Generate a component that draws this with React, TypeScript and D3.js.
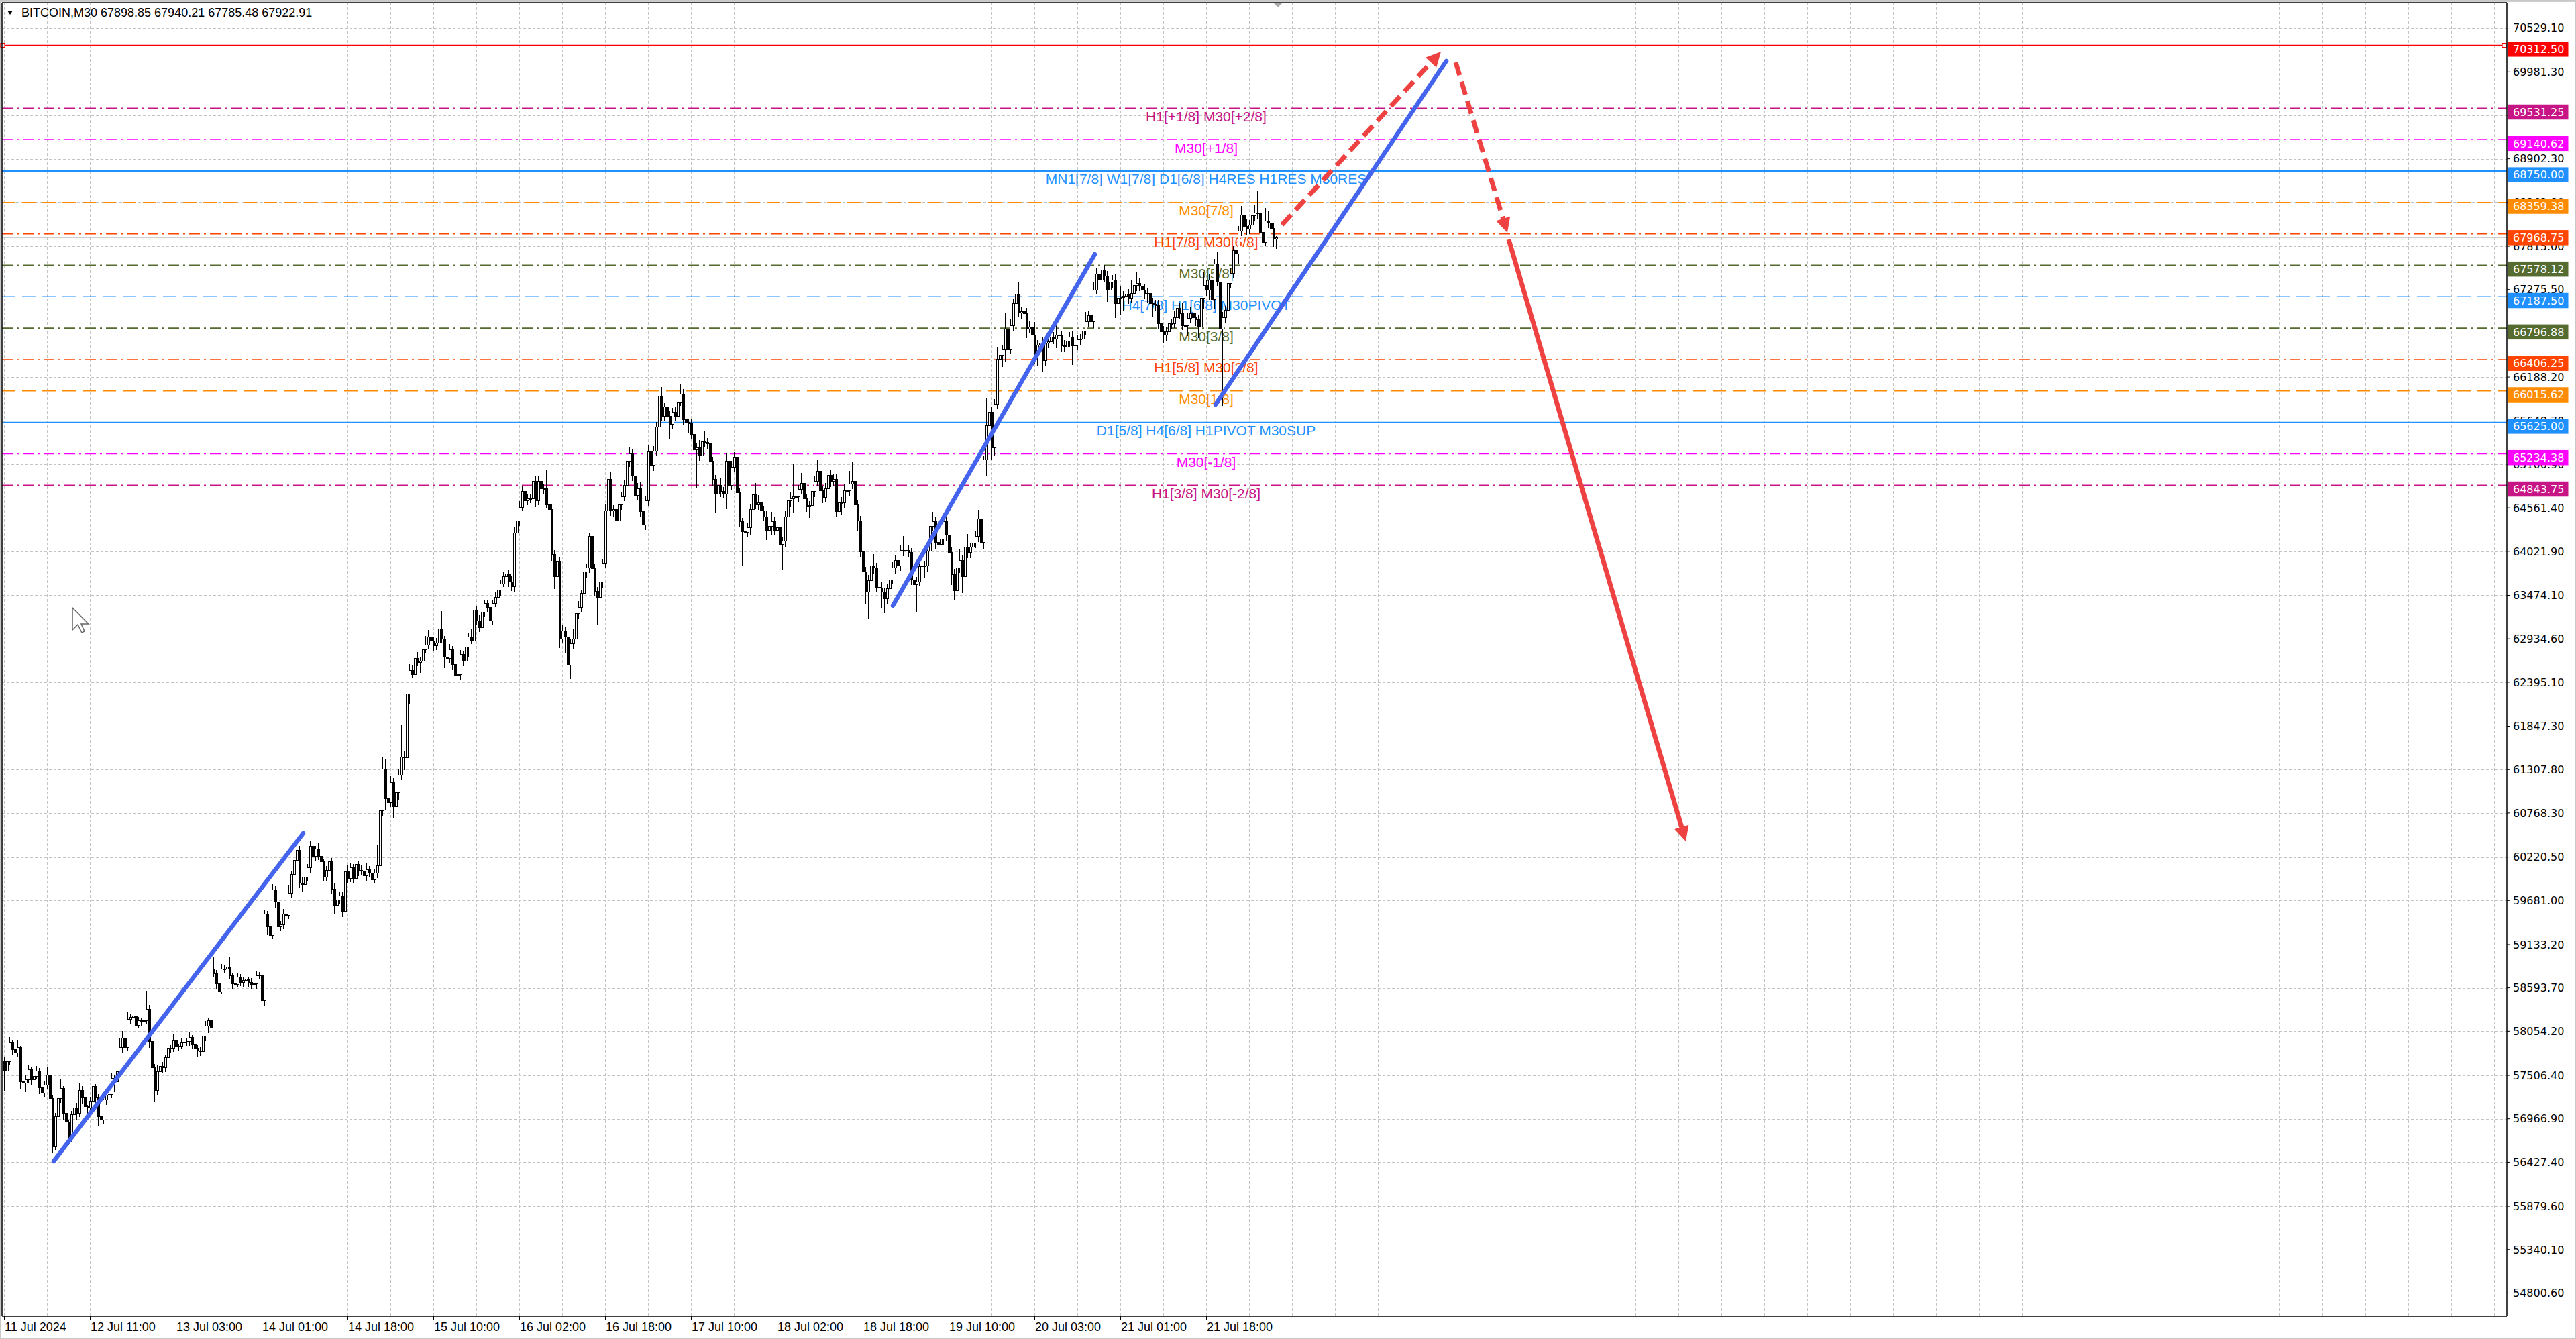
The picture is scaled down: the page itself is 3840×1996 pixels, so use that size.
import React, { useEffect } from 'react';
import * as d3 from 'd3';

// ---------- DATA ----------
const TITLE = 'BITCOIN,M30  67898.85 67940.21 67785.48 67922.91';

const CLOSES: number[] = [
  57557, 57674, 57907, 57824, 57782, 57849, 57424, 57407, 57449, 57574,
  57449, 57490, 57557, 57349, 57282, 57382, 57507, 57215, 56615, 56990,
  57215, 57340, 57032, 56923, 56740, 57015, 57098, 57032, 57323, 57223,
  57115, 57098, 57182, 57365, 57223, 56990, 56948, 57198, 57257, 57265,
  57465, 57424, 57549, 57849, 57966, 57849, 58199, 58224, 58241, 58132,
  58183, 58174, 58183, 58324, 57924, 57599, 57323, 57549, 57615, 57599,
  57724, 57841, 57841, 57932, 57866, 57866, 57907, 57916, 57924, 57974,
  57891, 57841, 57807, 57799, 57991, 58116, 58183, 58091, 58766, 58641,
  58549, 58825, 58825, 58850, 58741, 58641, 58633, 58725, 58658, 58683,
  58700, 58658, 58633, 58641, 58741, 58750, 58433, 59509, 59350, 59242,
  59809, 59659, 59350, 59383, 59509, 59492, 59775, 60001, 60176, 60301,
  59892, 59876, 59967, 60084, 60351, 60226, 60318, 60226, 60159, 59967,
  60051, 60159, 59825, 59617, 59684, 59734, 59542, 60034, 59951, 60084,
  59951, 60126, 60051, 60043, 59984, 60067, 60017, 59934, 60017, 60109,
  60793, 61318, 60951, 60893, 61143, 60843, 61018, 61243, 61460, 61452,
  62244, 62544, 62494, 62686, 62636, 62653, 62795, 62861, 62953, 62911,
  62845, 62878, 63053, 62928, 62703, 62686, 62795, 62619, 62478, 62494,
  62736, 62653, 62828, 62953, 62911, 63287, 63161, 63070, 63262, 63370,
  63328, 63161, 63370, 63453, 63537, 63620, 63704, 63745, 63645, 63579,
  64246, 64396, 64563, 64763, 64646, 64679, 64679, 64896, 64646, 64888,
  64804, 64796, 64604, 64538, 63979, 63704, 63895, 62928, 63036, 62953,
  62603, 62870, 62936, 63245, 63328, 63495, 63762, 63812, 64204, 63804,
  63520, 63453, 63637, 63871, 64521, 64913, 64521, 64538, 64396, 64604,
  64704, 64846, 65138, 65230, 64955, 64713, 64804, 64513, 64346, 64646,
  65263, 65096, 65271, 65564, 65955, 65705, 65814, 65705, 65597, 65747,
  65705, 65880, 65980, 65663, 65622, 65605, 65472, 65288, 65313, 65205,
  65388, 65372, 65363, 65146, 64913, 64730, 64846, 64763, 64730, 65146,
  64846, 65063, 65188, 64746, 64388, 64263, 64254, 64313, 64538, 64721,
  64604, 64621, 64521, 64454, 64287, 64329, 64388, 64287, 64313, 64104,
  64146, 64454, 64646, 64679, 64704, 64704, 64788, 64871, 64679, 64579,
  64588, 64763, 64888, 65013, 64771, 64688, 64804, 64971, 64896, 64913,
  64513, 64621, 64621, 64771, 64771, 64855, 64888, 64604, 64396, 64013,
  63762, 63512, 63654, 63845, 63812, 63570, 63562, 63512, 63429, 63554,
  63670, 63812, 63904, 63845, 64029, 64021, 64029, 64004, 63670, 63604,
  63645, 63829, 63845, 63845, 64021, 64329, 64388, 64129, 64104, 64171,
  64388, 64221, 64004, 63729, 63529, 63812, 63904, 63704, 64071, 64004,
  64071, 64121, 64204, 64429, 64129, 65155, 65580, 65755, 65305, 65855,
  66414, 66456, 66531, 66789, 66531, 66831, 67106, 67215, 66989, 66998,
  66981, 66789, 66806, 66706, 66472, 66589, 66606, 66389, 66614, 66623,
  66689, 66656, 66714, 66706, 66573, 66564, 66631, 66689, 66573, 66589,
  66648, 66656, 66764, 66873, 66956, 66873, 67273, 67473, 67398, 67523,
  67440, 67273, 67373, 67398, 67106, 67165, 67173, 67190, 67223, 67165,
  67231, 67331, 67356, 67315, 67273, 67223, 67231, 67098, 67090, 67081,
  66848, 66748, 66706, 66748, 66856, 66856, 66931, 67040, 66981, 66831,
  66823, 66915, 66981, 66931, 66898, 66806, 67165, 67331, 67265, 67398,
  67148, 67598, 67373, 66789, 66931, 67015, 67356, 67481, 67765, 67723,
  67999, 68207, 68065, 68024, 68082, 68191, 68232, 68224, 67982, 67857,
  68124, 68099, 68040, 67898.85, 67922.91,
];

const WICK_UP: number[] = [
  60, 42, 75, 33, 50, 92, 25, 42, 58, 67,
  33, 50, 67, 42, 25, 58, 100, 33, 42, 50,
  42, 117, 33, 58, 25, 50, 42, 67, 92, 50,
  42, 25, 58, 83, 33, 50, 42, 67, 50, 33,
  75, 42, 58, 117, 92, 33, 100, 50, 67, 42,
  50, 33, 42, 236, 58, 33, 50, 92, 42, 58,
  42, 67, 50, 83, 42, 33, 58, 42, 50, 75,
  33, 50, 42, 58, 100, 67, 42, 50, 160, 50,
  42, 67, 50, 83, 125, 42, 33, 58, 42, 50,
  42, 33, 58, 50, 67, 42, 50, 58, 42, 50,
  75, 58, 50, 42, 67, 58, 100, 42, 125, 83,
  58, 75, 42, 50, 70, 58, 42, 75, 50, 42,
  58, 42, 50, 67, 42, 58, 50, 225, 83, 58,
  50, 58, 42, 67, 50, 83, 42, 58, 50, 263,
  150, 140, 117, 58, 83, 67, 50, 75, 400, 83,
  67, 75, 58, 42, 83, 50, 67, 108, 92, 58,
  50, 67, 58, 225, 42, 58, 75, 50, 42, 58,
  58, 42, 67, 50, 100, 58, 50, 67, 58, 42,
  50, 58, 42, 67, 50, 42, 58, 50, 42, 67,
  75, 58, 83, 67, 258, 58, 50, 92, 58, 67,
  83, 58, 242, 50, 67, 58, 83, 58, 67, 50,
  50, 67, 125, 58, 75, 42, 67, 58, 50, 108,
  67, 58, 83, 50, 83, 334, 100, 58, 67, 75,
  58, 67, 75, 92, 58, 50, 67, 83, 58, 67,
  83, 142, 58, 67, 195, 108, 50, 58, 67, 58,
  67, 58, 117, 58, 67, 50, 58, 67, 50, 92,
  67, 125, 58, 67, 50, 58, 67, 83, 58, 100,
  58, 83, 67, 225, 58, 50, 67, 58, 75, 58,
  150, 100, 58, 67, 75, 117, 125, 58, 50, 67,
  58, 75, 67, 83, 400, 67, 58, 125, 67, 58,
  58, 67, 75, 150, 125, 58, 67, 108, 58, 67,
  67, 58, 75, 83, 58, 167, 242, 142, 58, 67,
  58, 67, 75, 58, 142, 67, 58, 75, 58, 67,
  58, 75, 67, 58, 67, 183, 75, 67, 58, 67,
  58, 67, 75, 58, 67, 58, 125, 67, 75, 58,
  67, 142, 58, 67, 75, 58, 142, 67, 58, 167,
  58, 67, 75, 108, 67, 58, 342, 75, 67, 58,
  142, 67, 58, 200, 67, 75, 58, 258, 150, 67,
  58, 67, 75, 58, 167, 58, 67, 75, 58, 67,
  125, 58, 117, 67, 58, 75, 67, 58, 67, 75,
  58, 67, 75, 125, 58, 67, 100, 67, 58, 125,
  58, 67, 75, 58, 67, 58, 150, 67, 75, 58,
  167, 58, 142, 67, 58, 75, 58, 67, 75, 58,
  67, 58, 75, 58, 67, 58, 75, 117, 67, 125,
  58, 67, 75, 142, 58, 67, 75, 158, 67, 75,
  133, 58, 150, 75, 67, 58, 75, 67, 58, 108,
  67, 108, 92, 83, 58, 125, 100, 275, 67, 75,
  167, 125, 58, 67, 17.3,
];

const WICK_DN: number[] = [
  250, 58, 42, 67, 33, 50, 83, 58, 108, 42,
  58, 42, 33, 75, 100, 50, 42, 58, 70, 42,
  33, 50, 83, 42, 100, 58, 33, 75, 42, 67,
  58, 75, 42, 33, 67, 108, 167, 42, 58, 50,
  42, 125, 50, 33, 58, 42, 33, 58, 42, 75,
  42, 58, 33, 42, 75, 117, 150, 58, 42, 67,
  50, 33, 58, 42, 67, 50, 33, 58, 42, 50,
  58, 42, 67, 50, 33, 58, 83, 100, 42, 67,
  58, 33, 42, 50, 42, 58, 67, 33, 42, 50,
  42, 58, 50, 33, 58, 42, 125, 67, 100, 88,
  42, 67, 83, 50, 58, 75, 42, 67, 50, 92,
  50, 83, 58, 42, 67, 50, 58, 42, 67, 50,
  42, 58, 67, 100, 50, 42, 67, 50, 58, 42,
  58, 42, 67, 50, 42, 58, 50, 67, 42, 58,
  75, 67, 140, 58, 50, 133, 167, 83, 58, 150,
  400, 117, 50, 83, 42, 125, 58, 42, 50, 67,
  58, 50, 67, 42, 133, 58, 50, 67, 150, 125,
  67, 58, 50, 117, 42, 67, 58, 50, 108, 50,
  67, 50, 58, 42, 50, 67, 42, 58, 67, 50,
  67, 50, 58, 42, 67, 50, 58, 42, 75, 50,
  58, 67, 50, 58, 75, 150, 58, 111, 42, 190,
  42, 167, 58, 50, 67, 58, 42, 75, 58, 50,
  58, 350, 50, 67, 58, 75, 58, 67, 250, 58,
  67, 58, 50, 67, 58, 75, 50, 58, 167, 58,
  58, 67, 75, 58, 50, 67, 58, 50, 180, 58,
  58, 67, 50, 75, 58, 108, 58, 50, 484, 58,
  200, 58, 67, 50, 75, 225, 58, 67, 50, 183,
  67, 58, 50, 75, 58, 417, 275, 58, 83, 67,
  58, 67, 75, 58, 125, 67, 100, 58, 75, 67,
  320, 67, 58, 75, 175, 58, 67, 50, 75, 67,
  142, 58, 67, 58, 75, 67, 58, 50, 75, 58,
  67, 58, 150, 67, 58, 67, 58, 75, 125, 67,
  58, 150, 334, 58, 67, 58, 75, 200, 180, 58,
  67, 58, 75, 58, 67, 58, 75, 58, 67, 75,
  334, 58, 67, 150, 75, 67, 58, 75, 67, 58,
  75, 67, 58, 125, 117, 67, 58, 200, 58, 67,
  67, 150, 58, 67, 75, 75, 200, 58, 150, 92,
  67, 58, 142, 150, 67, 58, 75, 67, 58, 75,
  67, 117, 58, 75, 125, 150, 67, 142, 58, 67,
  67, 58, 108, 58, 75, 58, 67, 75, 230, 230,
  67, 58, 75, 58, 67, 58, 75, 58, 67, 75,
  67, 150, 58, 75, 180, 58, 200, 167, 75, 67,
  58, 67, 75, 58, 67, 58, 117, 67, 150, 75,
  58, 100, 100, 75, 183, 67, 58, 75, 67, 58,
  67, 125, 58, 67, 75, 133, 58, 125, 67, 117,
  67, 117, 58, 100, 959, 67, 75, 58, 67, 75,
  125, 58, 67, 75, 58, 67, 58, 67, 108, 117,
  42, 58, 67, 92, 113.37,
];

const OPEN_OVERRIDE_INDEX = [0, 78];
const OPEN_OVERRIDE_PRICE = [57674, 58825];

const X_LABEL_BARS = [0, 32, 64, 96, 128, 160, 192, 224, 256, 288, 320, 352, 384, 416, 448];
const X_LABELS = [
  '11 Jul 2024', '12 Jul 11:00', '13 Jul 03:00', '14 Jul 01:00', '14 Jul 18:00',
  '15 Jul 10:00', '16 Jul 02:00', '16 Jul 18:00', '17 Jul 10:00', '18 Jul 02:00',
  '18 Jul 18:00', '19 Jul 10:00', '20 Jul 03:00', '21 Jul 01:00', '21 Jul 18:00',
];

const Y_TICKS = [
  70529.1, 69981.3, 69442.8, 68902.3, 68362.8, 67815.0, 67275.5, 66736.0, 66188.2,
  65648.7, 65100.9, 64561.4, 64021.9, 63474.1, 62934.6, 62395.1, 61847.3, 61307.8,
  60768.3, 60220.5, 59681.0, 59133.2, 58593.7, 58054.2, 57506.4, 56966.9, 56427.4,
  55879.6, 55340.1, 54800.6,
];

const LEVEL_PRICES = [70312.5, 69531.25, 69140.62, 68750.0, 68359.38, 67968.75, 67578.12,
  67187.5, 66796.88, 66406.25, 66015.62, 65625.0, 65234.38, 64843.75];
const LEVEL_TEXTS = ['', 'H1[+1/8] M30[+2/8]', 'M30[+1/8]', 'MN1[7/8] W1[7/8] D1[6/8] H4RES H1RES M30RES',
  'M30[7/8]', 'H1[7/8] M30[6/8]', 'M30[5/8]', 'H4[7/8] H1[6/8] M30PIVOT', 'M30[3/8]',
  'H1[5/8] M30[2/8]', 'M30[1/8]', 'D1[5/8] H4[6/8] H1PIVOT M30SUP', 'M30[-1/8]', 'H1[3/8] M30[-2/8]'];
const LEVEL_COLORS = ['#FF0000', '#C71585', '#FF00FF', '#1E90FF', '#FF8C00', '#FF4500', '#556B2F',
  '#1E90FF', '#556B2F', '#FF4500', '#FF8C00', '#1E90FF', '#FF00FF', '#C71585'];
const LEVEL_STYLES = ['solid', 'dashdot', 'dashdot', 'solid', 'dash', 'dashdot', 'dashdot',
  'dash', 'dashdot', 'dashdot', 'dash', 'solid', 'dashdot', 'dashdot'];

const BID_PRICE = 67922.91;

// trend lines: [bar1, price1, bar2, price2]
const BLUE_LINES: number[][] = [
  [18.5, 56439, 111.5, 60518],
  [331.25, 63345, 406.5, 67715],
  [451.5, 65847, 537.5, 70117],
];
const RED_ARROWS: number[][] = [
  [476.25, 68082, 535.5, 70234],
  [541, 70100, 560.25, 67982],
  [560.75, 67899, 626.75, 60418],
];
const RED_ARROW_DASHED = [true, true, false];

// ---------- LAYOUT ----------
const W = 3840;
const H = 1996;
const PL = 3;
const PT = 4;
const PR = 3737;
const PB = 1962;
const LABEL_CX = 1798;
const SANS = "'Liberation Sans', Arial, sans-serif";
const AXF = "'DejaVu Sans', Verdana, sans-serif";

function arrowGeom(x1: number, y1: number, x2: number, y2: number, len: number, half: number) {
  const dx = x2 - x1, dy = y2 - y1;
  const d = Math.hypot(dx, dy);
  const ux = dx / d, uy = dy / d;
  const bx = x2 - ux * len, by = y2 - uy * len;
  const pts = `${x2},${y2} ${bx - uy * half},${by + ux * half} ${bx + uy * half},${by - ux * half}`;
  return { pts, bx: bx + ux * 2, by: by + uy * 2 };
}

export default function App() {
  useEffect(() => {
    document.body.style.margin = '0';
    document.body.style.overflow = 'hidden';
  }, []);

  const x = d3.scaleLinear().domain([0, 932.75]).range([6, PR]);
  const y = d3.scaleLinear().domain([54512.4, 70842.7]).range([PB, PT]);

  const opens = CLOSES.map((c, i) => {
    const k = OPEN_OVERRIDE_INDEX.indexOf(i);
    if (k >= 0) return OPEN_OVERRIDE_PRICE[k];
    return i > 0 ? CLOSES[i - 1] : c;
  });

  const vGrid = d3.range(0, 933, 16);
  const dashFor = (s: string) => (s === 'dash' ? '20,10' : s === 'dashdot' ? '16,6,3,6' : undefined);

  return (
    <svg width={W} height={H} style={{ position: 'absolute', left: 0, top: 0, background: '#fff' }}
      xmlns="http://www.w3.org/2000/svg">
      <rect x={0} y={0} width={W} height={H} fill="#fff" />
      <rect x={0} y={0} width={W} height={3} fill="#CFCFCF" />
      <rect x={0.5} y={0.5} width={W - 1} height={H - 1} fill="none" stroke="#C8C8C8" />

      {/* grid */}
      <g stroke="#C4C4C4" strokeWidth={1} strokeDasharray="4,3" shapeRendering="crispEdges">
        {Y_TICKS.map((t, i) => (
          <line key={'hg' + i} x1={PL} x2={PR} y1={Math.round(y(t)) + 0.5} y2={Math.round(y(t)) + 0.5} />
        ))}
        {vGrid.map((b) => (
          <line key={'vg' + b} x1={Math.round(x(b)) + 0.5} x2={Math.round(x(b)) + 0.5} y1={PT} y2={PB} />
        ))}
      </g>

      {/* level lines */}
      {LEVEL_PRICES.map((p, i) => (
        <line key={'lv' + i} x1={PL} x2={PR} y1={y(p)} y2={y(p)} stroke={LEVEL_COLORS[i]}
          strokeWidth={i === 3 ? 2.4 : 1.6} strokeDasharray={dashFor(LEVEL_STYLES[i])} />
      ))}
      <rect x={1} y={y(LEVEL_PRICES[0]) - 3} width={6} height={6} fill="#fff" stroke="#FF0000" strokeWidth={1.2} />
      <rect x={PR - 7} y={y(LEVEL_PRICES[0]) - 3} width={6} height={6} fill="#fff" stroke="#FF0000" strokeWidth={1.2} />
      {/* bid line */}
      <line x1={PL} x2={PR} y1={y(BID_PRICE)} y2={y(BID_PRICE)} stroke="#BDBDBD" strokeWidth={1.5} />

      {/* level texts */}
      {LEVEL_TEXTS.map((t, i) => t ? (
        <text key={'lt' + i} x={LABEL_CX} y={y(LEVEL_PRICES[i]) + 19.5} textAnchor="middle"
          fontFamily={SANS} fontSize={21} fill={LEVEL_COLORS[i]}>{t}</text>
      ) : null)}

      {/* candles */}
      <g shapeRendering="crispEdges">
        {CLOSES.map((c, i) => {
          const o = opens[i];
          const hi = Math.max(o, c) + WICK_UP[i];
          const lo = Math.min(o, c) - WICK_DN[i];
          const cx = Math.round(x(i)) + 0.5;
          const yt = y(Math.max(o, c));
          const yb = y(Math.min(o, c));
          const bull = c >= o;
          return (
            <g key={'c' + i}>
              <line x1={cx} x2={cx} y1={y(hi)} y2={y(lo)} stroke="#000" strokeWidth={1} />
              <rect x={cx - 1.5} y={yt} width={3} height={Math.max(1, yb - yt)}
                fill={bull ? '#fff' : '#000'} stroke="#000" strokeWidth={1} />
            </g>
          );
        })}
      </g>

      {/* blue trend lines */}
      {BLUE_LINES.map((l, i) => (
        <line key={'bl' + i} x1={x(l[0])} y1={y(l[1])} x2={x(l[2])} y2={y(l[3])}
          stroke="#4464EE" strokeWidth={6.5} strokeLinecap="round" />
      ))}

      {/* red arrows */}
      {RED_ARROWS.map((l, i) => {
        const x1 = x(l[0]), y1 = y(l[1]), x2 = x(l[2]), y2 = y(l[3]);
        const g = arrowGeom(x1, y1, x2, y2, 22, 11);
        return (
          <g key={'ra' + i}>
            <line x1={x1} y1={y1} x2={g.bx} y2={g.by} stroke="#EE4242" strokeWidth={7}
              strokeDasharray={RED_ARROW_DASHED[i] ? '20,10' : undefined} />
            <polygon points={g.pts} fill="#EE4242" />
          </g>
        );
      })}

      {/* chart frame */}
      <line x1={PL} x2={PL} y1={PT} y2={PB} stroke="#000" strokeWidth={1.5} />
      <line x1={PL} x2={PR} y1={PT} y2={PT} stroke="#000" strokeWidth={1.5} />
      <line x1={PR} x2={PR} y1={PT} y2={PB} stroke="#000" strokeWidth={1.5} />
      <line x1={PL} x2={PR} y1={PB} y2={PB} stroke="#000" strokeWidth={1.5} />

      {/* shift marker */}
      <polygon points={`${1898},${4} ${1912},${4} ${1905},${11}`} fill="#A8A8A8" />

      {/* title */}
      <polygon points="11,16 19,16 15,22" fill="#000" />
      <text x={32} y={25} fontFamily={SANS} fontSize={18} fill="#000">{TITLE}</text>

      {/* y axis */}
      {Y_TICKS.map((t, i) => (
        <g key={'yt' + i}>
          <line x1={PR} x2={PR + 5} y1={y(t)} y2={y(t)} stroke="#000" strokeWidth={1} />
          <text x={3746} y={y(t)} dy="0.36em" fontFamily={AXF} fontSize={16} fill="#000">{t.toFixed(2)}</text>
        </g>
      ))}
      {LEVEL_PRICES.map((p, i) => (
        <g key={'yl' + i}>
          <rect x={3738.5} y={y(p) - 5.5} width={90} height={22.5} fill={LEVEL_COLORS[i]} />
          <text x={3746} y={y(p) + 5.7} dy="0.36em" fontFamily={AXF} fontSize={16} fill="#fff">{p.toFixed(2)}</text>
        </g>
      ))}

      {/* x axis */}
      {X_LABEL_BARS.map((b, i) => (
        <g key={'xt' + i}>
          <line x1={Math.round(x(b)) + 0.5} x2={Math.round(x(b)) + 0.5} y1={PB} y2={PB + 6} stroke="#000" strokeWidth={1} />
          <text x={x(b) + 1} y={1984} fontFamily={SANS} fontSize={18} fill="#000">{X_LABELS[i]}</text>
        </g>
      ))}

      {/* mouse cursor */}
      <polygon points="108,906 108,939 116,931 122,943 126,941 121,930 132,930"
        fill="#fff" stroke="#666" strokeWidth={1.5} />
    </svg>
  );
}
